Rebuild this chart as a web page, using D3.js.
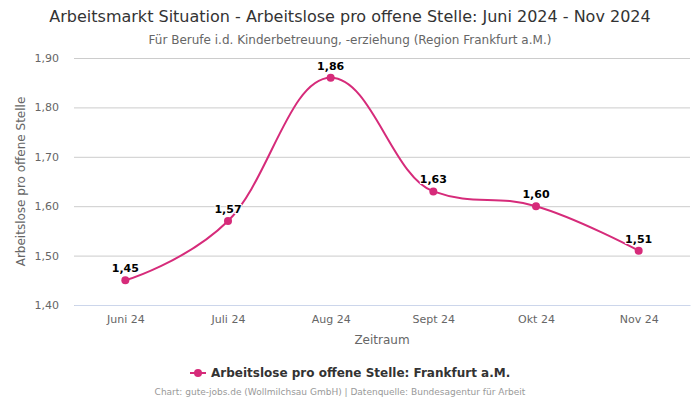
<!DOCTYPE html>
<html><head><meta charset="utf-8">
<script src="https://cdn.jsdelivr.net/npm/d3@7"></script>
<style>body{margin:0;background:#fff;font-family:"DejaVu Sans",sans-serif;}</style>
</head><body><svg id="c" width="700" height="400"></svg>
<script>
const categories = ["Juni 24","Juli 24","Aug 24","Sept 24","Okt 24","Nov 24"];
const values = [1.45,1.57,1.86,1.63,1.60,1.51];
const yTicks = [1.40,1.50,1.60,1.70,1.80,1.90];
const seriesName = "Arbeitslose pro offene Stelle: Frankfurt a.M.";
const color = "#d62b7a";
const fmt = v => v.toFixed(2).replace(".", ",");

(function(){
const svg = d3.select("#c");
const pLeft = 74, pRight = 690, pTop = 58, pBottom = 305;
const x = d3.scalePoint().domain(categories).range([pLeft, pRight]).padding(0.5);
const y = d3.scaleLinear().domain([1.40, 1.90]).range([pBottom, pTop]);

svg.append("text").attr("x", 350).attr("y", 22).attr("text-anchor", "middle")
  .attr("font-size", 16).attr("fill", "#333")
  .text("Arbeitsmarkt Situation - Arbeitslose pro offene Stelle: Juni 2024 - Nov 2024");
svg.append("text").attr("x", 350).attr("y", 44).attr("text-anchor", "middle")
  .attr("font-size", 12).attr("fill", "#666")
  .text("Für Berufe i.d. Kinderbetreuung, -erziehung (Region Frankfurt a.M.)");

const gy = svg.append("g").attr("transform", `translate(${pLeft},0)`)
  .call(d3.axisLeft(y).tickValues(yTicks).tickSize(-(pRight - pLeft)).tickFormat(fmt));
gy.select(".domain").remove();
gy.selectAll(".tick line").attr("stroke", "#ccc");
gy.selectAll(".tick text").attr("x", -15).attr("fill", "#666").attr("font-size", 11)
  .attr("font-family", "DejaVu Sans");

const gx = svg.append("g").attr("transform", `translate(0,${pBottom})`)
  .call(d3.axisBottom(x).tickSize(0).tickPadding(10));
gx.select(".domain").attr("stroke", "#ccd6eb");
gx.selectAll(".tick text").attr("fill", "#666").attr("font-size", 11).attr("font-family", "DejaVu Sans");

svg.append("text").attr("x", (pLeft + pRight) / 2).attr("y", 344).attr("text-anchor", "middle")
  .attr("font-size", 12).attr("fill", "#666").text("Zeitraum");
svg.append("text").attr("transform", `translate(25,${(pTop + pBottom) / 2}) rotate(-90)`)
  .attr("text-anchor", "middle").attr("font-size", 12).attr("fill", "#666")
  .text("Arbeitslose pro offene Stelle");

const data = categories.map((c, i) => ({c, v: values[i]}));
// Highcharts-style spline path built from scaled points
const pts = data.map(d => ({px: x(d.c), py: y(d.v)}));
const sm = 1.5, den = sm + 1;
pts.forEach((p, i) => {
  const a = pts[i - 1], b = pts[i + 1];
  if (!a || !b) return;
  let lx = (sm * p.px + a.px) / den, ly = (sm * p.py + a.py) / den;
  let rx = (sm * p.px + b.px) / den, ry = (sm * p.py + b.py) / den;
  if (rx !== lx) {
    const corr = ((ry - ly) * (rx - p.px)) / (rx - lx) + p.py - ry;
    ly += corr; ry += corr;
  }
  if (ly > a.py && ly > p.py) { ly = Math.max(a.py, p.py); ry = 2 * p.py - ly; }
  else if (ly < a.py && ly < p.py) { ly = Math.min(a.py, p.py); ry = 2 * p.py - ly; }
  if (ry > b.py && ry > p.py) { ry = Math.max(b.py, p.py); ly = 2 * p.py - ry; }
  else if (ry < b.py && ry < p.py) { ry = Math.min(b.py, p.py); ly = 2 * p.py - ry; }
  p.lx = lx; p.ly = ly; p.rx = rx; p.ry = ry;
});
const path = d3.path();
pts.forEach((p, i) => {
  if (i === 0) { path.moveTo(p.px, p.py); return; }
  const a = pts[i - 1];
  path.bezierCurveTo(a.rx ?? a.px, a.ry ?? a.py, p.lx ?? p.px, p.ly ?? p.py, p.px, p.py);
});
svg.append("path").attr("d", path.toString())
  .attr("fill", "none").attr("stroke", color).attr("stroke-width", 2);
svg.selectAll("circle.pt").data(data).join("circle").attr("class", "pt")
  .attr("cx", d => x(d.c)).attr("cy", d => y(d.v)).attr("r", 4).attr("fill", color);
svg.selectAll("text.lbl").data(data).join("text").attr("class", "lbl")
  .attr("x", d => x(d.c)).attr("y", d => y(d.v) - 8).attr("text-anchor", "middle")
  .attr("font-size", 11).attr("font-weight", "bold").attr("fill", "#000")
  .attr("stroke", "#fff").attr("stroke-width", 2).attr("paint-order", "stroke")
  .text(d => fmt(d.v));

const lg = svg.append("g");
lg.append("line").attr("x1", 190).attr("x2", 206).attr("y1", 373).attr("y2", 373)
  .attr("stroke", color).attr("stroke-width", 2);
lg.append("circle").attr("cx", 198).attr("cy", 373).attr("r", 4).attr("fill", color);
lg.append("text").attr("x", 211).attr("y", 377).attr("font-size", 12).attr("font-weight", "bold")
  .attr("fill", "#333").text(seriesName);

svg.append("text").attr("x", 340).attr("y", 395).attr("text-anchor", "middle")
  .attr("font-size", 9).attr("fill", "#999")
  .text("Chart: gute-jobs.de (Wollmilchsau GmbH) | Datenquelle: Bundesagentur für Arbeit");
})();
</script></body></html>
